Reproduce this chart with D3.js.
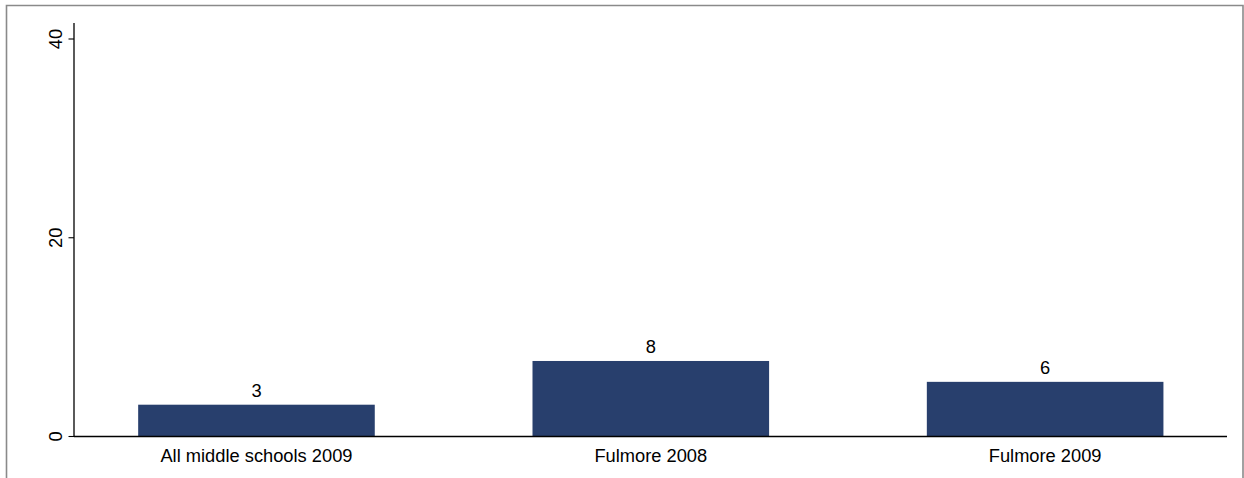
<!DOCTYPE html>
<html>
<head>
<meta charset="utf-8">
<script src="https://cdn.jsdelivr.net/npm/d3@7"></script>
<style>
  html, body { margin: 0; padding: 0; background: #fff; }
  svg { display: block; }
  text { font-family: "Liberation Sans", Arial, sans-serif; fill: #000; }
</style>
</head>
<body>
<div id="chart"></div>
<script>
const categories = ["All middle schools 2009", "Fulmore 2008", "Fulmore 2009"];
const values = [3.2, 7.6, 5.5];
const yTicks = [0, 20, 40];

const W = 1244, H = 478;
const svg = d3.select("#chart").append("svg").attr("width", W).attr("height", H);

// outer frame (open at bottom)
svg.append("path")
  .attr("d", `M6.5,${H} L6.5,5.5 L1243,5.5 L1243,${H}`)
  .attr("fill", "none").attr("stroke", "#8a8a8a").attr("stroke-width", 1.6);

const plotLeft = 74, plotRight = 1227, plotTop = 23;
const y = d3.scaleLinear().domain([0, 40]).range([436.5, 39]);
const x = d3.scaleBand().domain(categories).range([59.3, 1242.3])
  .paddingInner(0.4).paddingOuter(0.2);

// bars
svg.append("g").selectAll("rect").data(values).join("rect")
  .attr("x", (d, i) => x(categories[i]))
  .attr("width", x.bandwidth())
  .attr("y", d => y(d))
  .attr("height", d => y(0) - y(d))
  .attr("fill", "#283f6d");

// value labels
svg.append("g").selectAll("text").data(values).join("text")
  .attr("x", (d, i) => x(categories[i]) + x.bandwidth() / 2)
  .attr("y", d => y(d) - 7.5)
  .attr("text-anchor", "middle")
  .attr("font-size", "18.3px")
  .text(d => d3.format(".0f")(d));

// y axis
const yAxis = svg.append("g").attr("transform", `translate(${plotLeft},0)`);
yAxis.append("line").attr("x1", 0).attr("x2", 0).attr("y1", plotTop).attr("y2", y(0))
  .attr("stroke", "#000").attr("stroke-width", 1.3);
yAxis.selectAll(".tick").data(yTicks).join("g").attr("class", "tick")
  .each(function(d) {
    const g = d3.select(this);
    g.append("line").attr("x1", -5.5).attr("x2", 0).attr("y1", y(d)).attr("y2", y(d))
      .attr("stroke", "#000").attr("stroke-width", 1.1);
    g.append("text")
      .attr("transform", `translate(-12.5,${y(d)}) rotate(-90)`)
      .attr("text-anchor", "middle")
      .attr("font-size", "18.3px")
      .text(d);
  });

// x axis
const xAxis = svg.append("g").attr("transform", `translate(0,${y(0)})`);
xAxis.append("line").attr("x1", plotLeft).attr("x2", plotRight).attr("y1", 0).attr("y2", 0)
  .attr("stroke", "#000").attr("stroke-width", 1.3);
xAxis.selectAll("text").data(categories).join("text")
  .attr("x", d => x(d) + x.bandwidth() / 2)
  .attr("y", 25.5)
  .attr("text-anchor", "middle")
  .attr("font-size", "18.3px")
  .text(d => d);
</script>
</body>
</html>
